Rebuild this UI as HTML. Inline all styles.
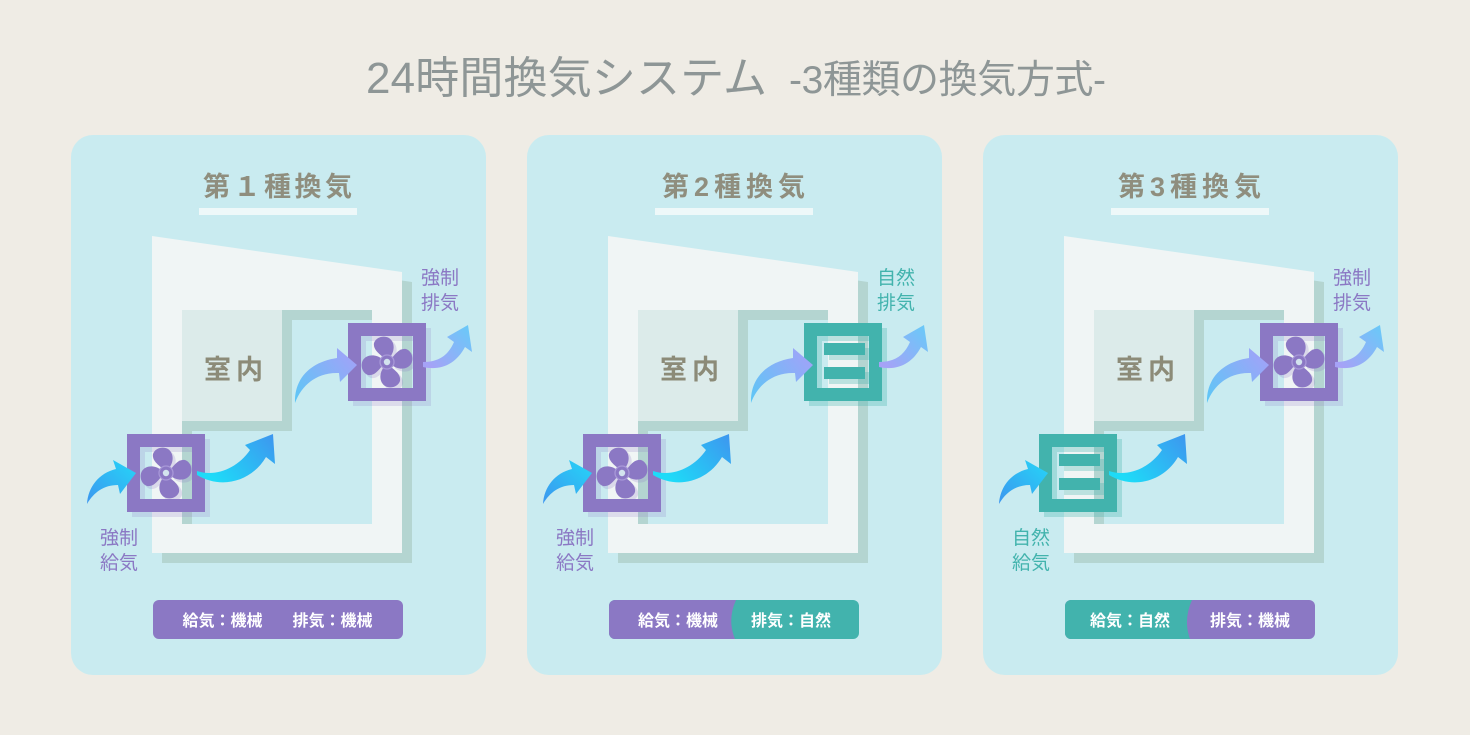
<!DOCTYPE html>
<html>
<head>
<meta charset="utf-8">
<style>
  html,body{margin:0;padding:0;background:#efece5;}
  svg{display:block;}
  text{font-family:"Liberation Sans","Noto Sans CJK JP",sans-serif;}
</style>
</head>
<body>
<svg width="1470" height="735" viewBox="0 0 1470 735" xmlns="http://www.w3.org/2000/svg">
  <defs>
    <linearGradient id="g1" x1="0" y1="1" x2="1" y2="0">
      <stop offset="0" stop-color="#3c96ef"/><stop offset="1" stop-color="#25d6f8"/>
    </linearGradient>
    <linearGradient id="g2" x1="0" y1="0.5" x2="1" y2="0">
      <stop offset="0" stop-color="#1edbf8"/><stop offset="1" stop-color="#3e95ef"/>
    </linearGradient>
    <linearGradient id="g3" x1="0" y1="1" x2="1" y2="0.3">
      <stop offset="0" stop-color="#5cc7f6"/><stop offset="1" stop-color="#9ea4f8"/>
    </linearGradient>
    <linearGradient id="g4" x1="0" y1="0.8" x2="1" y2="0">
      <stop offset="0" stop-color="#a6a2f7"/><stop offset="1" stop-color="#66cbf8"/>
    </linearGradient>

    <g id="house">
      <path d="M162,246 L412,282 L412,563 L162,563 Z M192,320 L192,534 L382,534 L382,320 Z" fill="#b4d5d1" fill-rule="evenodd"/>
      <path d="M152,236 L402,272 L402,553 L152,553 Z M182,310 L182,524 L372,524 L372,310 Z" fill="#f0f5f5" fill-rule="evenodd"/>
      <rect x="192" y="320" width="100" height="111" fill="#b4d5d1"/>
      <rect x="182" y="310" width="100" height="111" fill="#dcebea"/>
    </g>

    <g id="blades">
      <path d="M3,-5 C8,-11 8,-20 2,-24 C-3,-27 -11,-25 -13,-19 C-14,-13 -9,-9 -4,-5 Z"/>
      <path d="M3,-5 C8,-11 8,-20 2,-24 C-3,-27 -11,-25 -13,-19 C-14,-13 -9,-9 -4,-5 Z" transform="rotate(90)"/>
      <path d="M3,-5 C8,-11 8,-20 2,-24 C-3,-27 -11,-25 -13,-19 C-14,-13 -9,-9 -4,-5 Z" transform="rotate(180)"/>
      <path d="M3,-5 C8,-11 8,-20 2,-24 C-3,-27 -11,-25 -13,-19 C-14,-13 -9,-9 -4,-5 Z" transform="rotate(270)"/>
    </g>

    <g id="fan">
      <path d="M5,5h78v78h-78z M18,18v52h52v-52z" fill="#8b78c4" fill-opacity="0.2" fill-rule="evenodd"/>
      <g transform="translate(42,42)" fill="#8b78c4" fill-opacity="0.22"><use href="#blades"/></g>
      <path d="M0,0h78v78h-78z M13,13v52h52v-52z" fill="#8b78c4" fill-rule="evenodd"/>
      <g transform="translate(39,39)" fill="#8b78c4"><use href="#blades"/></g>
      <circle cx="39" cy="39" r="7" fill="#8b78c4" stroke="#a898d8" stroke-width="1.3"/>
      <circle cx="39" cy="39" r="3.2" fill="#d3e3ee"/>
    </g>

    <g id="vent">
      <path d="M5,5h78v78h-78z M18,18v52h52v-52z" fill="#42b3ad" fill-opacity="0.3" fill-rule="evenodd"/>
      <rect x="25" y="25" width="41" height="12" fill="#42b3ad" fill-opacity="0.3"/>
      <rect x="25" y="49" width="41" height="12" fill="#42b3ad" fill-opacity="0.3"/>
      <path d="M0,0h78v78h-78z M13,13v52h52v-52z" fill="#42b3ad" fill-rule="evenodd"/>
      <rect x="20" y="20" width="41" height="12" fill="#42b3ad"/>
      <rect x="20" y="44" width="41" height="12" fill="#42b3ad"/>
    </g>

    <g id="arrows">
      <path d="M87,504 C88,487 99,473 116,469 L113,460 L136,473 L120,494 L118,485 C104,485 94,492 87,504 Z" fill="url(#g1)"/>
      <path d="M197,471 C215,477 237,469 250,450 L245,445 L273,434 L275,464 L266,457 C252,481 222,490 197,475 Z" fill="url(#g2)"/>
      <path d="M295,403 C294,379 310,362 337,358 L337,348 L357,365 L340,382 L339,373 C318,372 302,384 295,403 Z" fill="url(#g3)"/>
      <path d="M423,362 C438,362 448,356 454,342 L447,337 L468,325 L472,352 L465,347 C456,364 441,371 423,367 Z" fill="url(#g4)"/>
    </g>

    <clipPath id="cp2"><rect x="609" y="600" width="250" height="39" rx="6"/></clipPath>
    <clipPath id="cp3"><rect x="1065" y="600" width="250" height="39" rx="6"/></clipPath>
  </defs>

  <rect width="1470" height="735" fill="#efece5"/>

  <!-- Title -->
  <text x="366" y="93" font-size="44" fill="#8e9696" textLength="401" lengthAdjust="spacing">24時間換気システム</text>
  <text x="789" y="93" font-size="39" fill="#8e9696" textLength="317" lengthAdjust="spacing">-3種類の換気方式-</text>

  <!-- Panels -->
  <rect x="71" y="135" width="415" height="540" rx="22" fill="#c9ebf0"/>
  <rect x="527" y="135" width="415" height="540" rx="22" fill="#c9ebf0"/>
  <rect x="983" y="135" width="415" height="540" rx="22" fill="#c9ebf0"/>

  <!-- Headings -->
  <text x="203" y="196" font-size="27" font-weight="700" fill="#8f8e7e" textLength="149" lengthAdjust="spacing">第１種換気</text>
  <rect x="199" y="208" width="158" height="7" fill="#eef8f9"/>
  <text x="662" y="196" font-size="27" font-weight="700" fill="#8f8e7e" textLength="143" lengthAdjust="spacing">第2種換気</text>
  <rect x="655" y="208" width="158" height="7" fill="#eef8f9"/>
  <text x="1118" y="196" font-size="27" font-weight="700" fill="#8f8e7e" textLength="143" lengthAdjust="spacing">第3種換気</text>
  <rect x="1111" y="208" width="158" height="7" fill="#eef8f9"/>

  <!-- Panel 1 -->
  <use href="#house"/>
  <text x="204" y="379" font-size="27" font-weight="700" fill="#8c8b78" textLength="59" lengthAdjust="spacing">室内</text>
  <text x="421" y="284" font-size="19" fill="#8b78c4">強制</text>
  <text x="421" y="309" font-size="19" fill="#8b78c4">排気</text>
  <text x="100" y="544" font-size="19" fill="#8b78c4">強制</text>
  <text x="100" y="569" font-size="19" fill="#8b78c4">給気</text>
  <use href="#fan" x="127" y="434"/>
  <use href="#fan" x="348" y="323"/>
  <use href="#arrows"/>
  <rect x="153" y="600" width="250" height="39" rx="6" fill="#8b78c4"/>
  <text x="222.5" y="626" font-size="16" font-weight="700" fill="#ffffff" text-anchor="middle">給気：機械</text>
  <text x="332.5" y="626" font-size="16" font-weight="700" fill="#ffffff" text-anchor="middle">排気：機械</text>

  <!-- Panel 2 -->
  <g transform="translate(456,0)">
    <use href="#house"/>
    <use href="#fan" x="127" y="434"/>
    <use href="#vent" x="348" y="323"/>
    <use href="#arrows"/>
  </g>
  <text x="660" y="379" font-size="27" font-weight="700" fill="#8c8b78" textLength="59" lengthAdjust="spacing">室内</text>
  <text x="877" y="284" font-size="19" fill="#42b3ad">自然</text>
  <text x="877" y="309" font-size="19" fill="#42b3ad">排気</text>
  <text x="556" y="544" font-size="19" fill="#8b78c4">強制</text>
  <text x="556" y="569" font-size="19" fill="#8b78c4">給気</text>
  <g clip-path="url(#cp2)">
    <rect x="609" y="600" width="250" height="39" fill="#42b3ad"/>
    <path d="M609,600 L736,600 Q727,620 735,639 L609,639 Z" fill="#8b78c4"/>
  </g>
  <text x="678" y="626" font-size="16" font-weight="700" fill="#ffffff" text-anchor="middle">給気：機械</text>
  <text x="791" y="626" font-size="16" font-weight="700" fill="#ffffff" text-anchor="middle">排気：自然</text>

  <!-- Panel 3 -->
  <g transform="translate(912,0)">
    <use href="#house"/>
    <use href="#vent" x="127" y="434"/>
    <use href="#fan" x="348" y="323"/>
    <use href="#arrows"/>
  </g>
  <text x="1116" y="379" font-size="27" font-weight="700" fill="#8c8b78" textLength="59" lengthAdjust="spacing">室内</text>
  <text x="1333" y="284" font-size="19" fill="#8b78c4">強制</text>
  <text x="1333" y="309" font-size="19" fill="#8b78c4">排気</text>
  <text x="1012" y="544" font-size="19" fill="#42b3ad">自然</text>
  <text x="1012" y="569" font-size="19" fill="#42b3ad">給気</text>
  <g clip-path="url(#cp3)">
    <rect x="1065" y="600" width="250" height="39" fill="#8b78c4"/>
    <path d="M1065,600 L1192,600 Q1183,620 1190,639 L1065,639 Z" fill="#42b3ad"/>
  </g>
  <text x="1130" y="626" font-size="16" font-weight="700" fill="#ffffff" text-anchor="middle">給気：自然</text>
  <text x="1250" y="626" font-size="16" font-weight="700" fill="#ffffff" text-anchor="middle">排気：機械</text>
</svg>
</body>
</html>
